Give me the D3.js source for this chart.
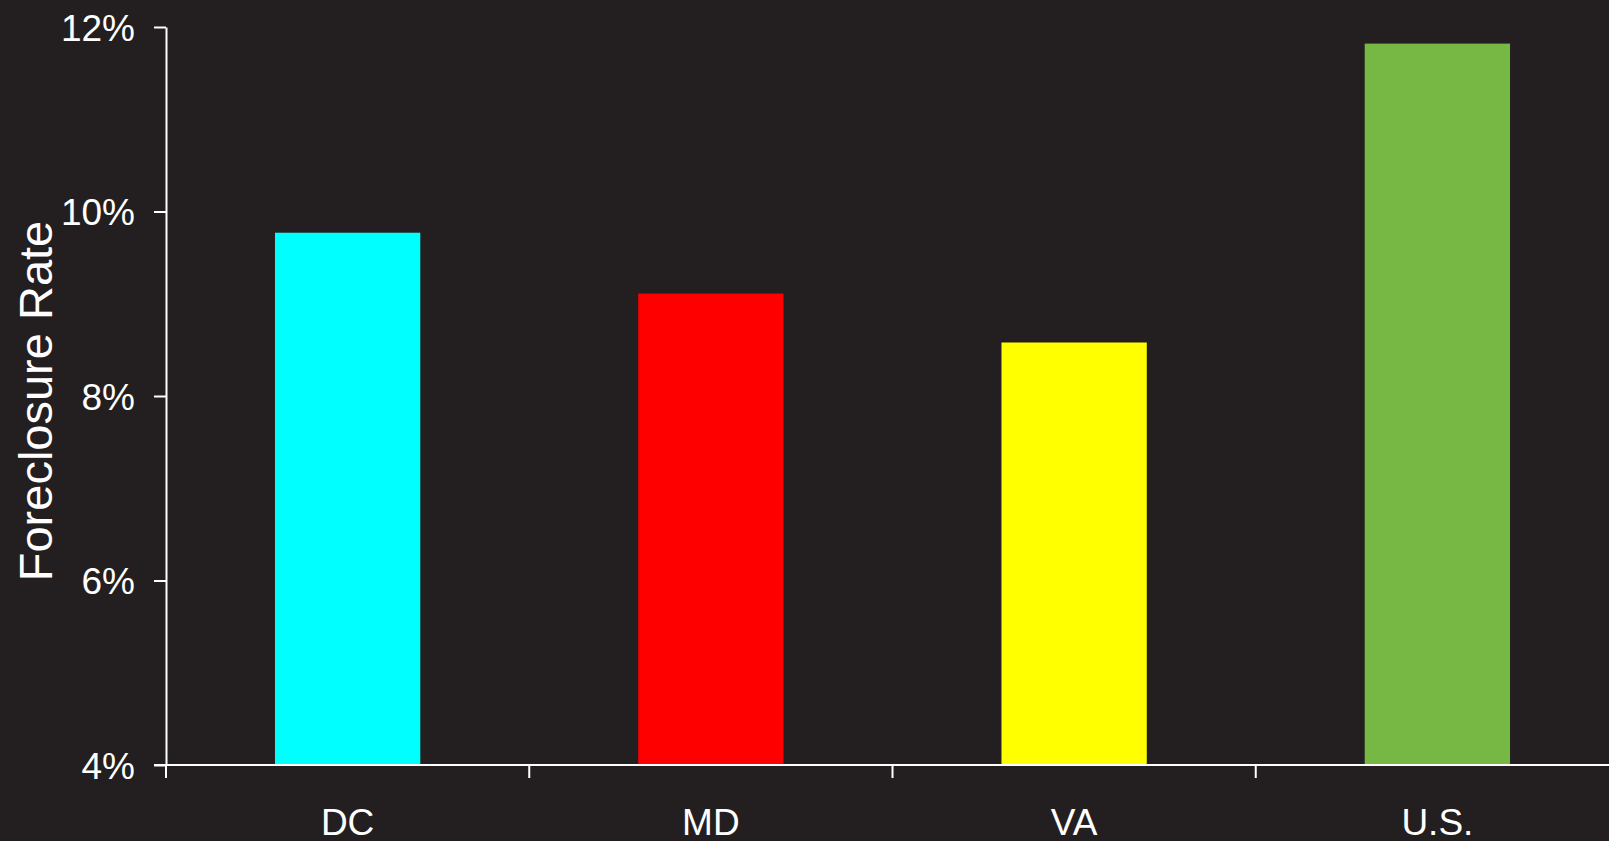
<!DOCTYPE html>
<html>
<head>
<meta charset="utf-8">
<script src="https://cdn.jsdelivr.net/npm/d3@7"></script>
<style>
  html, body { margin: 0; padding: 0; background: #231f20; }
  svg { display: block; }
  text { font-family: "Liberation Sans", Arial, Helvetica, sans-serif; fill: #ffffff; }
</style>
</head>
<body>
<svg id="chart" width="1609" height="841"></svg>
<script>
// Foreclosure rate by area
const categories = ["DC", "MD", "VA", "U.S."];
const rates = [9.77, 9.11, 8.58, 11.82];
const barColors = ["#00ffff", "#ff0000", "#ffff00", "#76b843"];
const yTicks = [4, 6, 8, 10, 12];
const yTitle = "Foreclosure Rate";

const svg = d3.select("#chart");
const W = 1609, H = 841;

svg.append("rect").attr("width", W).attr("height", H).attr("fill", "#231f20");

const axisX = 166;
const y = d3.scaleLinear().domain([4, 12]).range([765, 27]);
const x = d3.scaleBand()
  .domain(categories)
  .range([axisX, 1619])
  .paddingInner(0.6)
  .paddingOuter(0.3);

// bars
svg.append("g")
  .selectAll("rect")
  .data(categories)
  .join("rect")
  .attr("x", d => x(d))
  .attr("width", x.bandwidth())
  .attr("y", (d, i) => y(rates[i]))
  .attr("height", (d, i) => y(4) - y(rates[i]))
  .attr("fill", (d, i) => barColors[i]);

// y axis
const yAxis = d3.axisLeft(y)
  .tickValues(yTicks)
  .tickSize(12)
  .tickSizeOuter(0)
  .tickPadding(19)
  .tickFormat(d => d + "%");

const gy = svg.append("g")
  .attr("transform", `translate(${axisX},0)`)
  .call(yAxis);
gy.selectAll("path, line").attr("stroke", "#ffffff").attr("stroke-width", 2);
gy.selectAll("text")
  .attr("fill", "#ffffff")
  .style("font-size", "37px")
  .attr("dy", "0.36em");

// x axis: baseline, boundary ticks between bands, category labels
const gx = svg.append("g").attr("transform", `translate(0,${y(4)})`);
gx.append("line")
  .attr("x1", axisX - 12).attr("x2", W)
  .attr("y1", 0).attr("y2", 0)
  .attr("stroke", "#ffffff").attr("stroke-width", 2);

const step = x.step();
const boundaries = categories.map(c => x(c) - step * 0.3);
gx.selectAll("line.bound")
  .data(boundaries)
  .join("line")
  .attr("class", "bound")
  .attr("x1", d => d).attr("x2", d => d)
  .attr("y1", 0).attr("y2", 13)
  .attr("stroke", "#ffffff").attr("stroke-width", 2);

gx.selectAll("text.cat")
  .data(categories)
  .join("text")
  .attr("class", "cat")
  .attr("x", d => x(d) + x.bandwidth() / 2)
  .attr("y", 70)
  .attr("text-anchor", "middle")
  .style("font-size", "37px")
  .text(d => d);

// y axis title
svg.append("text")
  .attr("transform", `translate(52,401) rotate(-90)`)
  .attr("text-anchor", "middle")
  .style("font-size", "47px")
  .text(yTitle);
</script>
</body>
</html>
